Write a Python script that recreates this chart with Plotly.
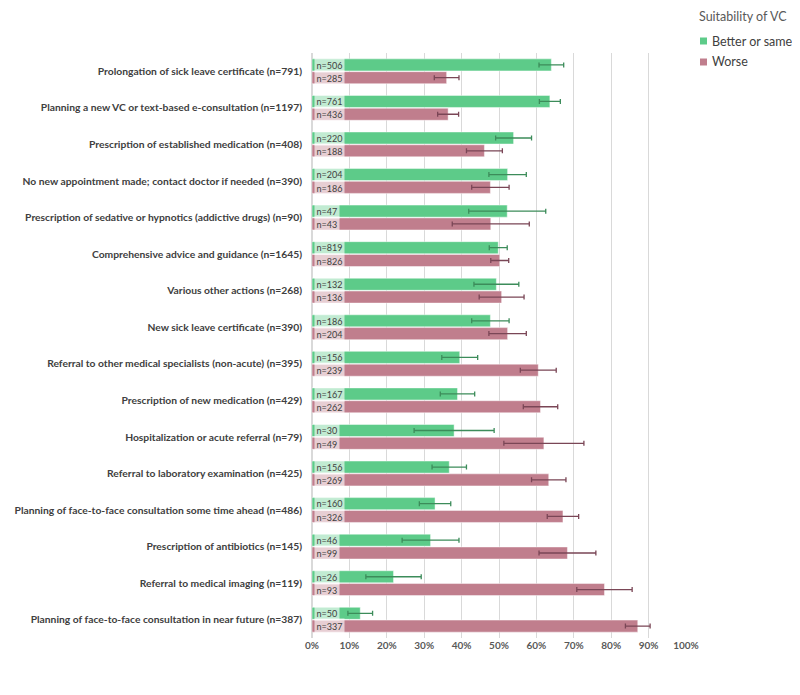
import plotly.graph_objects as go

categories = [
    "Prolongation of sick leave certificate (n=791)",
    "Planning a new VC or text-based e-consultation (n=1197)",
    "Prescription of established medication (n=408)",
    "No new appointment made; contact doctor if needed (n=390)",
    "Prescription of sedative or hypnotics (addictive drugs) (n=90)",
    "Comprehensive advice and guidance (n=1645)",
    "Various other actions (n=268)",
    "New sick leave certificate (n=390)",
    "Referral to other medical specialists (non-acute) (n=395)",
    "Prescription of new medication (n=429)",
    "Hospitalization or acute referral (n=79)",
    "Referral to laboratory examination (n=425)",
    "Planning of face-to-face consultation some time ahead (n=486)",
    "Prescription of antibiotics (n=145)",
    "Referral to medical imaging (n=119)",
    "Planning of face-to-face consultation in near future (n=387)",
]

better_pct = [64.0, 63.6, 53.9, 52.3, 52.2, 49.8, 49.3, 47.7, 39.5, 38.9, 38.0, 36.7, 32.9, 31.7, 21.8, 12.9]
worse_pct = [36.0, 36.4, 46.1, 47.7, 47.8, 50.2, 50.7, 52.3, 60.5, 61.1, 62.0, 63.3, 67.1, 68.3, 78.2, 87.1]
ci_half = [3.3, 2.8, 4.8, 5.0, 10.3, 2.4, 6.0, 5.0, 4.8, 4.6, 10.7, 4.6, 4.2, 7.6, 7.4, 3.3]

better_n = ["n=506", "n=761", "n=220", "n=204", "n=47", "n=819", "n=132", "n=186",
            "n=156", "n=167", "n=30", "n=156", "n=160", "n=46", "n=26", "n=50"]
worse_n = ["n=285", "n=436", "n=188", "n=186", "n=43", "n=826", "n=136", "n=204",
           "n=239", "n=262", "n=49", "n=269", "n=326", "n=99", "n=93", "n=337"]

series_names = ["Better or same", "Worse"]
legend_title = "Suitability of VC"

GREEN = "#5DCB89"
MAUVE = "#C07E8D"

# page body has an 8px margin; figure coords = screen coords - 8
OFF = 8
FIG_W, FIG_H = 800 - OFF, 695 - OFF
L, R, T, B = 312 - OFF, FIG_W - (686 - OFF), 53 - OFF, FIG_H - (638 - OFF)

fig = go.Figure()
fig.add_trace(go.Bar(
    y=categories, x=better_pct, orientation="h", name=series_names[0], showlegend=False,
    marker=dict(color=GREEN, line=dict(color="rgba(255,255,255,0.45)", width=1)),
    error_x=dict(type="data", array=ci_half, color="#3C8C5A", thickness=1.3, width=2.5),
))
fig.add_trace(go.Bar(
    y=categories, x=worse_pct, orientation="h", name=series_names[1], showlegend=False,
    marker=dict(color=MAUVE, line=dict(color="rgba(255,255,255,0.45)", width=1)),
    error_x=dict(type="data", array=ci_half, color="#7A4656", thickness=1.3, width=2.5),
))

for cat, bn, wn in zip(categories, better_n, worse_n):
    for txt, shift in ((bn, 6.6), (wn, -6.6)):
        fig.add_annotation(
            x=0, y=cat, xref="x", yref="y", text=txt, showarrow=False,
            xanchor="left", yanchor="middle", xshift=1.5, yshift=shift,
            font=dict(family="Lato", size=9, color="#404040"),
            bgcolor="rgba(255,255,255,0.62)", borderpad=1.5,
        )

PX_W, PX_H = FIG_W - L - R, FIG_H - T - B


def px_x(px):  # screen px -> paper
    return (px - OFF - L) / PX_W


def px_y(py):
    return 1 - (py - OFF - T) / PX_H


fig.add_annotation(x=px_x(697), y=px_y(16), xref="paper", yref="paper", text=legend_title,
                   showarrow=False, xanchor="left", yanchor="middle",
                   font=dict(family="Lato", size=12.5, color="#595959"))
for name, col, py in ((series_names[0], GREEN, 41), (series_names[1], MAUVE, 62)):
    fig.add_shape(type="rect", xref="paper", yref="paper",
                  x0=px_x(700), x1=px_x(707), y0=px_y(py + 3.5), y1=px_y(py - 3.5),
                  fillcolor=col, line=dict(width=0))
    fig.add_annotation(x=px_x(710), y=px_y(py), xref="paper", yref="paper", text=name,
                       showarrow=False, xanchor="left", yanchor="middle",
                       font=dict(family="Lato", size=12.5, color="#404040"))

fig.update_layout(
    width=FIG_W, height=FIG_H,
    margin=dict(l=L, r=R, t=T, b=B, autoexpand=False),
    barmode="group", bargap=0.3, bargroupgap=0.06,
    plot_bgcolor="white", paper_bgcolor="white",
    font=dict(family="Lato", color="#595959"),
    showlegend=False,
    xaxis=dict(
        range=[0, 100], dtick=10, ticksuffix="%", showgrid=True,
        gridcolor="#D9D9D9", gridwidth=1, zeroline=True, zerolinecolor="#D9D9D9",
        tickfont=dict(size=10, color="#595959", weight="bold"),
        ticks="", fixedrange=True, automargin=False,
    ),
    yaxis=dict(
        autorange="reversed", showgrid=False, ticks="", ticklabelstandoff=9,
        tickfont=dict(size=10.3, color="#404040", weight="bold"), automargin=False,
    ),
)

fig.write_html("out.html")
